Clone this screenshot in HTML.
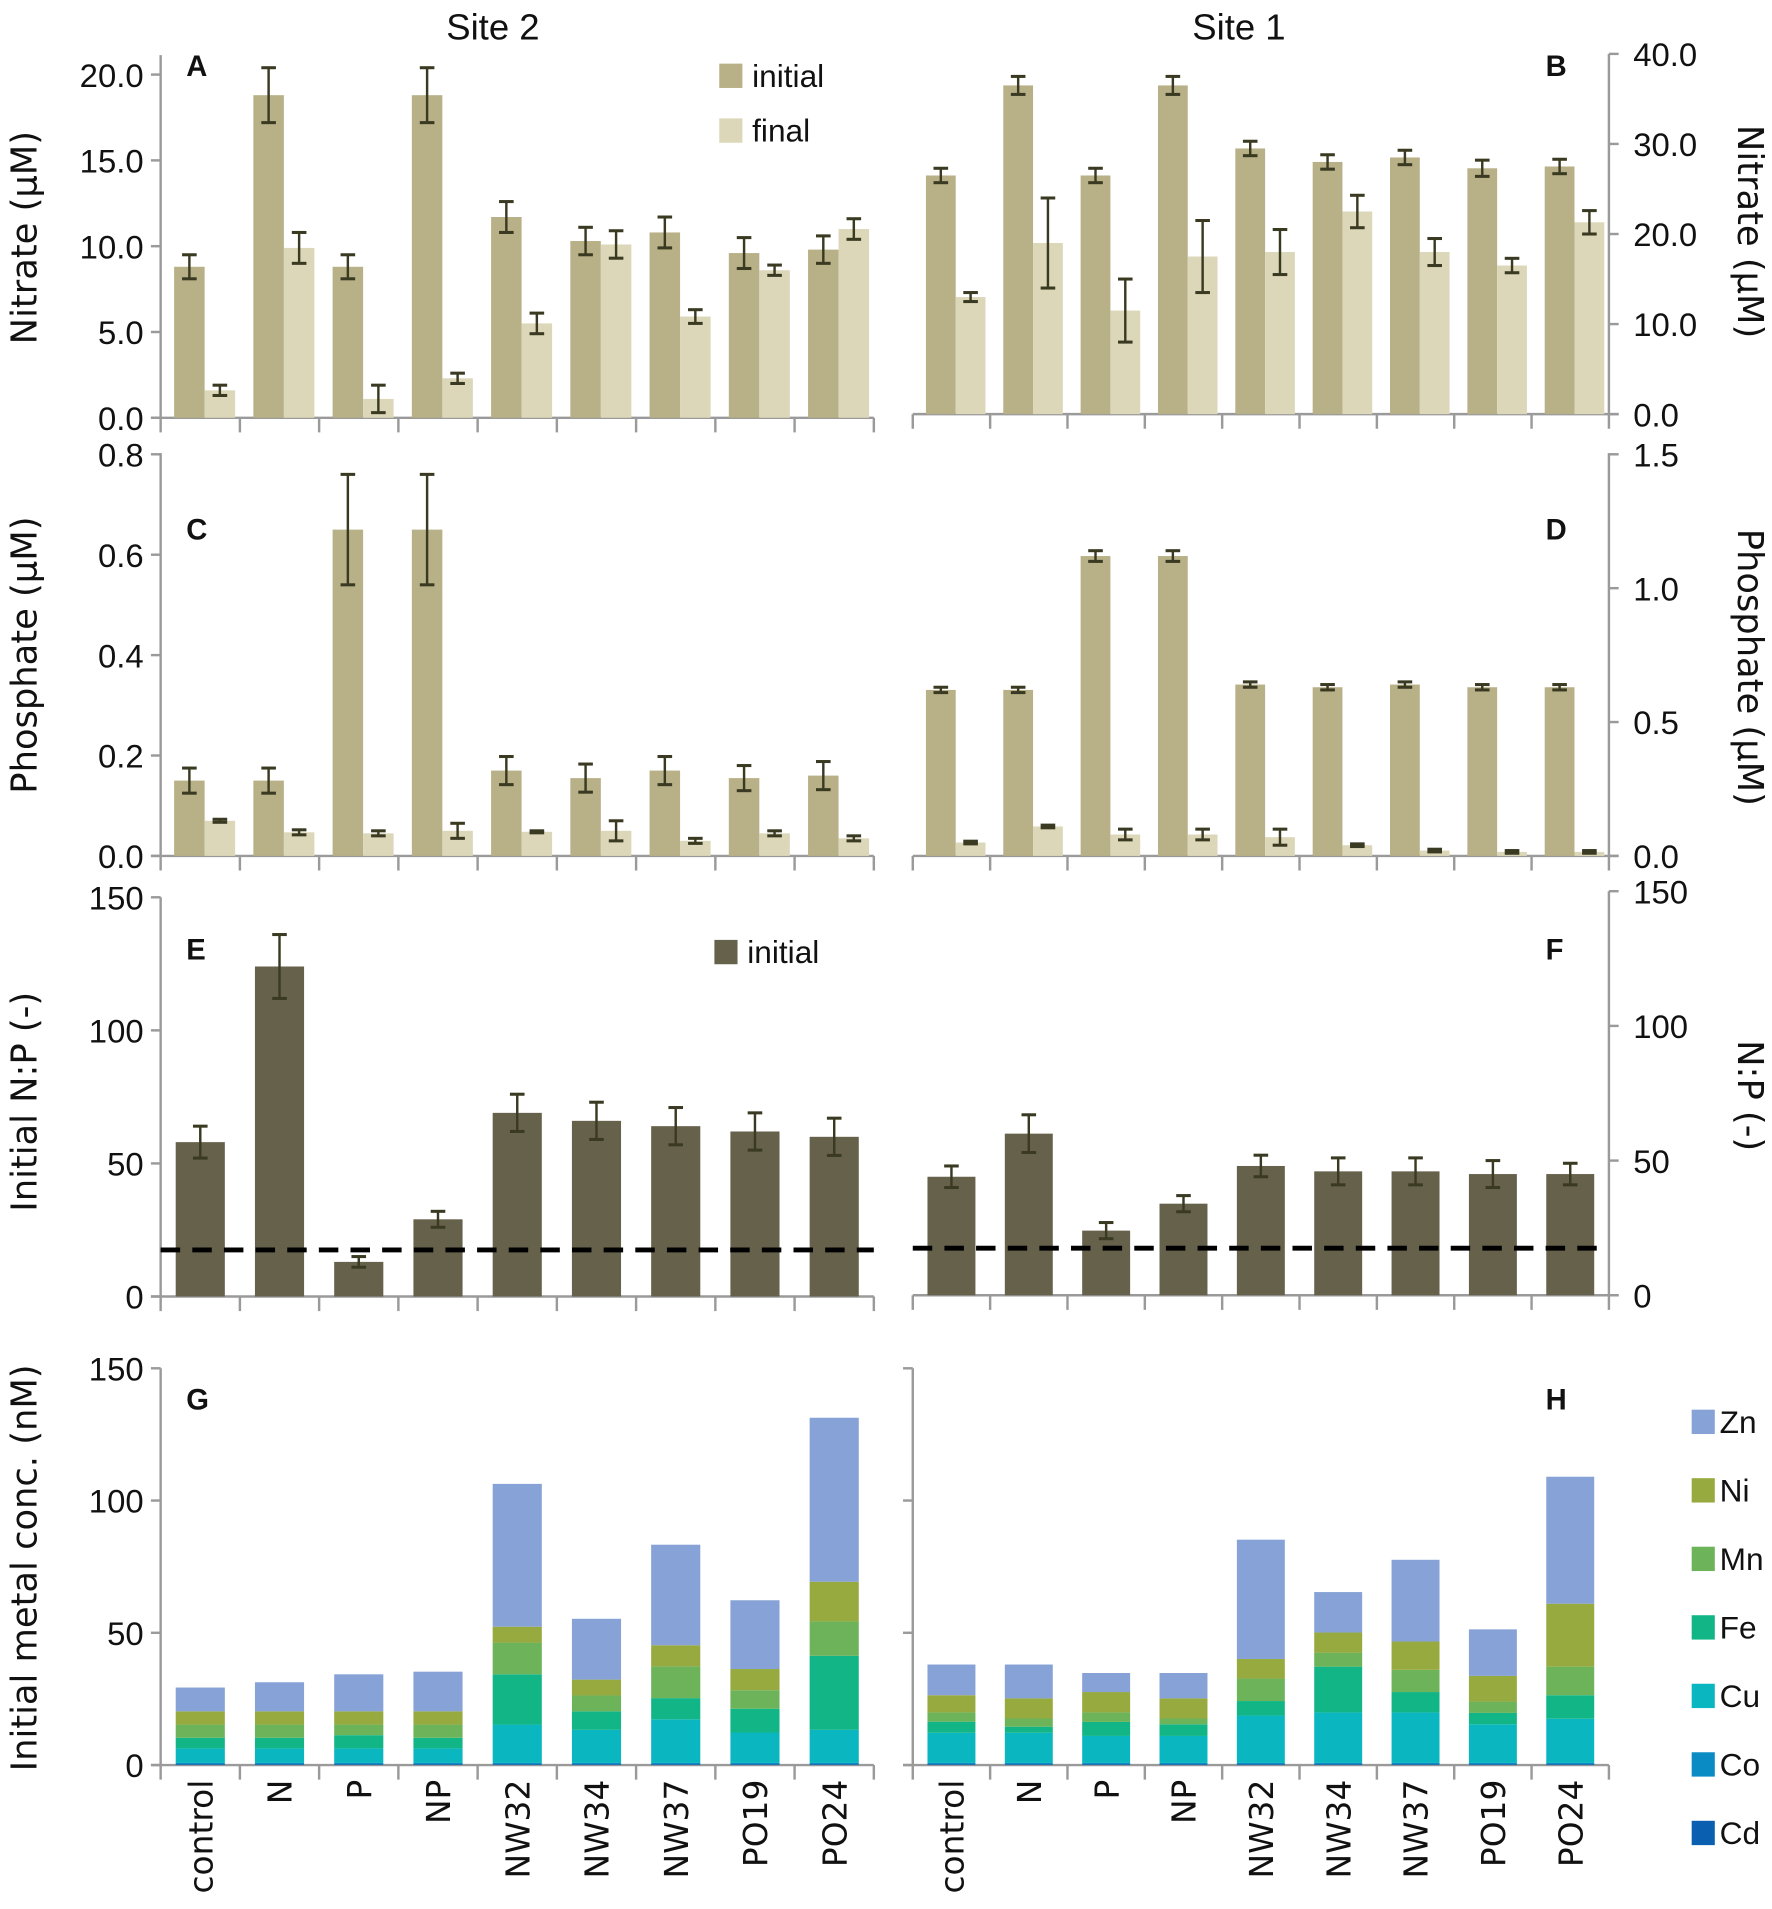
<!DOCTYPE html>
<html><head><meta charset="utf-8"><style>
html,body{margin:0;padding:0;background:#fff;}
svg{display:block;}
text{font-family:"Liberation Sans",sans-serif;fill:#111;}
.dv{font-family:"DejaVu Sans","Liberation Sans",sans-serif;}
</style></head><body>
<svg id="chart" width="1772" height="1909" viewBox="0 0 1456 1568" xmlns="http://www.w3.org/2000/svg">
<text x="405" y="32" font-size="30" text-anchor="middle">Site 2</text>
<text x="1018" y="32" font-size="30" text-anchor="middle">Site 1</text>
</svg>
<script>
const categories=["control","N","P","NP","NW32","NW34","NW37","PO19","PO24"];
// Panel A (Site 2 nitrate)
const aInit=[8.8,18.8,8.8,18.8,11.7,10.3,10.8,9.6,9.8];
const aInitErr=[0.7,1.6,0.7,1.6,0.9,0.8,0.9,0.9,0.8];
const aFinal=[1.6,9.9,1.1,2.3,5.5,10.1,5.9,8.6,11.0];
const aFinalErr=[0.3,0.9,0.8,0.3,0.6,0.8,0.4,0.3,0.6];
// Panel B (Site 1 nitrate)
const bInit=[26.5,36.5,26.5,36.5,29.5,28.0,28.5,27.3,27.5];
const bInitErr=[0.8,1.0,0.8,1.0,0.8,0.8,0.8,0.9,0.8];
const bFinal=[13.0,19.0,11.5,17.5,18.0,22.5,18.0,16.5,21.3];
const bFinalErr=[0.5,5.0,3.5,4.0,2.5,1.8,1.5,0.8,1.3];
// Panel C (Site 2 phosphate)
const cInit=[0.15,0.15,0.65,0.65,0.17,0.155,0.17,0.155,0.16];
const cInitErr=[0.025,0.025,0.11,0.11,0.028,0.028,0.028,0.025,0.028];
const cFinal=[0.07,0.047,0.045,0.05,0.048,0.05,0.03,0.045,0.035];
const cFinalErr=[0.003,0.005,0.005,0.015,0.002,0.02,0.005,0.005,0.005];
// Panel D (Site 1 phosphate)
const dInit=[0.62,0.62,1.12,1.12,0.64,0.63,0.64,0.63,0.63];
const dInitErr=[0.01,0.01,0.02,0.02,0.01,0.01,0.01,0.01,0.01];
const dFinal=[0.05,0.11,0.08,0.08,0.07,0.04,0.02,0.015,0.015];
const dFinalErr=[0.005,0.005,0.02,0.02,0.03,0.005,0.005,0.005,0.005];
// Panel E/F N:P
const eNP=[58,124,13,29,69,66,64,62,60];
const eNPErr=[6,12,2,3,7,7,7,7,7];
const fNP=[44,60,24,34,48,46,46,45,45];
const fNPErr=[4,7,3,3,4,5,5,5,4];
const redfield=17.5;
// Panel G/H metals (nM)
const metals=["Cd","Co","Cu","Fe","Mn","Ni","Zn"];
const gCd=[0.3,0.3,0.3,0.3,0.3,0.3,0.3,0.3,0.3];
const gCo=[0.5,0.5,0.5,0.5,0.5,0.5,0.5,0.5,0.5];
const gCu=[5.5,5.5,5.5,5.5,14.5,12.5,16.5,11.5,12.5];
const gFe=[4,4,5,4,19,7,8,9,28];
const gMn=[5,5,4,5,12,6,12,7,13];
const gNi=[5,5,5,5,6,6,8,8,15];
const gZn=[9,11,14,15,54,23,38,26,62];
const hCd=[0.3,0.3,0.3,0.3,0.3,0.3,0.3,0.3,0.3];
const hCo=[0.5,0.5,0.5,0.5,0.5,0.5,0.5,0.5,0.5];
const hCu=[11.4,11.4,10.2,10.2,17.9,19.1,19.1,14.6,16.7];
const hFe=[4.2,2.3,5.3,4.4,5.5,17.3,7.7,4.3,8.9];
const hMn=[3.5,3.1,3.6,2.2,8.5,5.3,8.4,4.3,10.8];
const hNi=[6.5,7.6,7.7,7.6,7.4,7.6,10.7,9.7,23.8];
const hZn=[11.6,12.8,7.2,9.6,45.1,15.3,30.9,17.6,48];
const axisTicksA=["0.0","5.0","10.0","15.0","20.0"];
const axisTicksB=["0.0","10.0","20.0","30.0","40.0"];
const axisTicksC=["0.0","0.2","0.4","0.6","0.8"];
const axisTicksD=["0.0","0.5","1.0","1.5"];
const axisTicksE=["0","50","100","150"];

const svg=document.getElementById('chart');
const NS="http://www.w3.org/2000/svg";
function mk(tag,attrs,parent){const e=document.createElementNS(NS,tag);for(const k in attrs)e.setAttribute(k,attrs[k]);(parent||svg).appendChild(e);return e;}
const cInitCol="#b8b087",cFinalCol="#dcd7b8",cDark="#66614b",errCol="#3a3a22",axCol="#9a9a9a";
const metalCol={Cd:"#0a5fb0",Co:"#0a8bc4",Cu:"#0ab7c0",Fe:"#12b686",Mn:"#6cb35a",Ni:"#97aa3f",Zn:"#87a2d6"};

function frame(p,tickLabels,side,tickMax){
  const g=mk('g',{});
  
  
  const ax=side==='left'?p.x0:p.x1;
  mk('line',{x1:ax,y1:p.top,x2:ax,y2:p.y0,stroke:axCol,'stroke-width':2},g);
  mk('line',{x1:p.x0-(side==='left'?8:0),y1:p.y0,x2:p.x1+(side==='right'?8:0),y2:p.y0,stroke:axCol,'stroke-width':2},g);
  const n=categories.length,w=(p.x1-p.x0)/n;
  for(let i=0;i<=n;i++){mk('line',{x1:p.x0+i*w,y1:p.y0,x2:p.x0+i*w,y2:p.y0+12,stroke:axCol,'stroke-width':2},g);}
  const step=tickMax/(tickLabels.length-1);
  tickLabels.forEach((t,i)=>{
    const y=p.y0-i*step*p.ppu;
    mk('line',{x1:side==='left'?ax-8:ax,y1:y,x2:side==='left'?ax:ax+8,y2:y,stroke:axCol,'stroke-width':2},g);
    if(p.showLabels!==false){
      const tx=mk('text',{x:side==='left'?ax-14:ax+20,y:y+10,'font-size':27,'text-anchor':side==='left'?'end':'start'},g);
      tx.textContent=t;
      
      
    }
  });
  return g;
}
function err(g,cx,v,e,p){
  const yt=p.y0-(v+e)*p.ppu,yb=p.y0-(v-e)*p.ppu;
  mk('line',{x1:cx,y1:yt,x2:cx,y2:yb,stroke:errCol,'stroke-width':2},g);
  mk('line',{x1:cx-6,y1:yt,x2:cx+6,y2:yt,stroke:errCol,'stroke-width':2.5},g);
  mk('line',{x1:cx-6,y1:yb,x2:cx+6,y2:yb,stroke:errCol,'stroke-width':2.5},g);
}
function pairBars(p,init,initE,fin,finE){
  const n=categories.length,w=(p.x1-p.x0)/n;
  categories.forEach((c,i)=>{
    const gx=p.x0+i*w,bw=w*0.385,s=gx+w*0.17;
    const g=mk('g',{});
    
    
    const r1=mk('rect',{x:s,y:p.y0-init[i]*p.ppu,width:bw,height:init[i]*p.ppu,fill:cInitCol},g);
    
    
    const r2=mk('rect',{x:s+bw,y:p.y0-fin[i]*p.ppu,width:bw,height:fin[i]*p.ppu,fill:cFinalCol},g);
    
    
    err(g,s+bw/2,init[i],initE[i],p);
    err(g,s+bw*1.5,fin[i],finE[i],p);
  });
}
function singleBars(p,vals,errs){
  const n=categories.length,w=(p.x1-p.x0)/n;
  categories.forEach((c,i)=>{
    const gx=p.x0+i*w,bw=w*0.62,s=gx+(w-bw)/2;
    const g=mk('g',{});
    
    
    const r=mk('rect',{x:s,y:p.y0-vals[i]*p.ppu,width:bw,height:vals[i]*p.ppu,fill:cDark},g);
    
    
    err(g,s+bw/2,vals[i],errs[i],p);
  });
  const dl=mk('line',{x1:p.x0,y1:p.y0-redfield*p.ppu,x2:p.x1,y2:p.y0-redfield*p.ppu,stroke:'#000','stroke-width':4,'stroke-dasharray':'16,10'});
  
  
}
function stacks(p,series){
  const n=categories.length,w=(p.x1-p.x0)/n;
  categories.forEach((c,i)=>{
    const gx=p.x0+i*w,bw=w*0.62,s=gx+(w-bw)/2;
    const g=mk('g',{});
    
    
    let acc=0;
    metals.forEach(m=>{
      const v=series[m][i];
      const r=mk('rect',{x:s,y:p.y0-(acc+v)*p.ppu,width:bw,height:v*p.ppu,fill:metalCol[m]},g);
      
      
      acc+=v;
    });
  });
}
function label(txt,x,y,name,opts){
  const t=mk('text',Object.assign({x:x,y:y,'font-size':24,'font-weight':'bold'},opts||{}));
  t.textContent=txt;
  
  
  return t;
}
function ytitle(txt,x,y,rot,name){
  const t=mk('text',{x:0,y:0,'font-size':29,'text-anchor':'middle',class:'dv',transform:'translate('+x+','+y+') rotate('+rot+')'});
  t.textContent=txt;
  
  
}
const L={x0:132,x1:718},R={x0:750,x1:1322};
const pA={name:'panel-a',x0:L.x0,x1:L.x1,y0:343,top:45,ppu:282/20};
const pB={name:'panel-b',x0:R.x0,x1:R.x1,y0:340,top:44,ppu:296/40};
const pC={name:'panel-c',x0:L.x0,x1:L.x1,y0:703,top:372,ppu:330/0.8};
const pD={name:'panel-d',x0:R.x0,x1:R.x1,y0:703,top:372,ppu:330/1.5};
const pE={name:'panel-e',x0:L.x0,x1:L.x1,y0:1065,top:737,ppu:328/150};
const pF={name:'panel-f',x0:R.x0,x1:R.x1,y0:1064,top:732,ppu:332/150};
const pG={name:'panel-g',x0:L.x0,x1:L.x1,y0:1450,top:1124,ppu:326/150};
const pH={name:'panel-h',x0:R.x0,x1:R.x1,y0:1450,top:1124,ppu:326/150,showLabels:false};

frame(pA,axisTicksA,'left',20);pairBars(pA,aInit,aInitErr,aFinal,aFinalErr);
frame(pB,axisTicksB,'right',40);pairBars(pB,bInit,bInitErr,bFinal,bFinalErr);
frame(pC,axisTicksC,'left',0.8);pairBars(pC,cInit,cInitErr,cFinal,cFinalErr);
frame(pD,axisTicksD,'right',1.5);pairBars(pD,dInit,dInitErr,dFinal,dFinalErr);
frame(pE,axisTicksE,'left',150);singleBars(pE,eNP,eNPErr);
frame(pF,axisTicksE,'right',150);singleBars(pF,fNP,fNPErr);
frame(pG,axisTicksE,'left',150);stacks(pG,{Cd:gCd,Co:gCo,Cu:gCu,Fe:gFe,Mn:gMn,Ni:gNi,Zn:gZn});
frame(pH,axisTicksE,'left',150);stacks(pH,{Cd:hCd,Co:hCo,Cu:hCu,Fe:hFe,Mn:hMn,Ni:hNi,Zn:hZn});

label('A',153,62,'panel-a-letter');label('B',1270,62,'panel-b-letter');
label('C',153,443,'panel-c-letter');label('D',1270,443,'panel-d-letter');
label('E',153,788,'panel-e-letter');label('F',1270,788,'panel-f-letter');
label('G',153,1158,'panel-g-letter');label('H',1270,1158,'panel-h-letter');

ytitle('Nitrate (µM)',30,195,-90,'panel-a-y-title');
ytitle('Nitrate (µM)',1428,190,90,'panel-b-y-title');
ytitle('Phosphate (µM)',30,538,-90,'panel-c-y-title');
ytitle('Phosphate (µM)',1428,548,90,'panel-d-y-title');
ytitle('Initial N:P (-)',30,905,-90,'panel-e-y-title');
ytitle('N:P (-)',1428,900,90,'panel-f-y-title');
ytitle('Initial metal conc. (nM)',30,1288,-90,'panel-g-y-title');

// legends
function legendItem(x,y,col,txt,name,off){
  const g=mk('g',{});
  
  
  mk('rect',{x:x,y:y,width:19,height:20,fill:col},g);
  const t=mk('text',{x:x+(off||27),y:y+19,'font-size':26},g);t.textContent=txt;
}
legendItem(591,52,cInitCol,'initial','legend-initial');
legendItem(591,97,cFinalCol,'final','legend-final');
legendItem(587,772,cDark,'initial','legend-np-initial');
const metalLegendOrder=["Zn","Ni","Mn","Fe","Cu","Co","Cd"];
metalLegendOrder.forEach((m,i)=>{legendItem(1390,1158+i*56.3,metalCol[m],m,'legend-'+m.toLowerCase(),23);});

// category labels
[L,R].forEach((P,k)=>{
  const w=(P.x1-P.x0)/categories.length;
  categories.forEach((c,i)=>{
    const cx=P.x0+(i+0.5)*w+10;
    const t=mk('text',{x:0,y:0,'font-size':27,'text-anchor':'end',class:'dv',transform:'translate('+cx+',1462) rotate(-90)'});
    t.textContent=c;
    
    
  });
});
</script>
</body></html>
